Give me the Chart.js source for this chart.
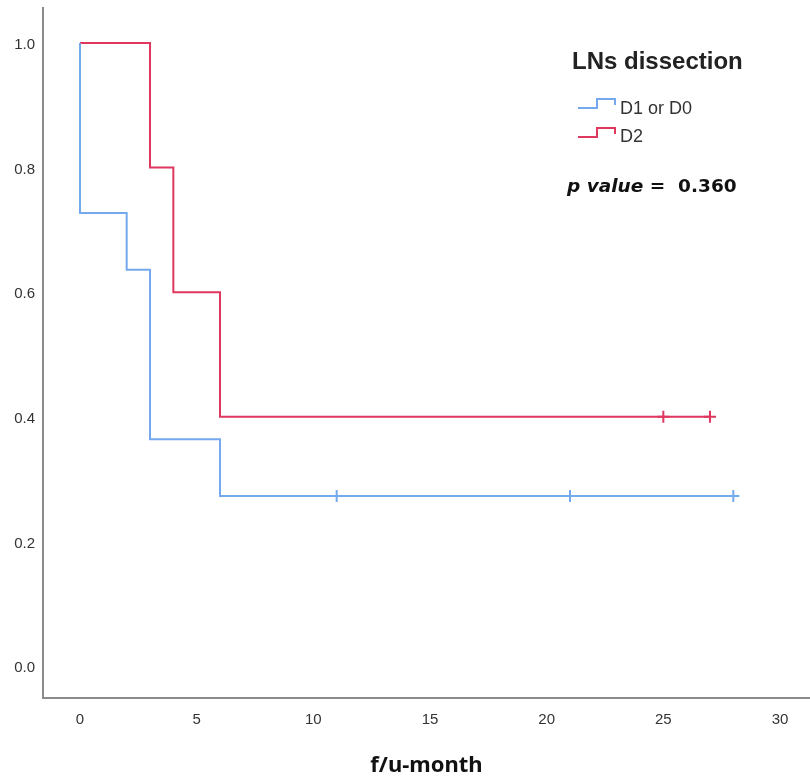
<!DOCTYPE html>
<html>
<head>
<meta charset="utf-8">
<script src="https://cdn.jsdelivr.net/npm/chart.js@4"></script>
<style>
  html, body { margin: 0; padding: 0; background: #fff; }
  #wrap { width: 810px; height: 780px; }
</style>
</head>
<body>
<div id="wrap"><canvas id="km" width="810" height="780"></canvas></div>
<script>
// survival curves (time in months, cumulative survival)
const d1Times = [0, 0, 2, 3, 6, 28];
const d1Surv = [1.0, 0.727, 0.636, 0.364, 0.273, 0.273];
const d2Times = [0, 3, 4, 6, 27];
const d2Surv = [1.0, 0.8, 0.6, 0.4, 0.4];

// censored cases
const d1CensorTimes = [11, 21, 28];
const d1CensorSurv = [0.273, 0.273, 0.273];
const d2CensorTimes = [25, 27];
const d2CensorSurv = [0.4, 0.4];

const groupNames = ["D1 or D0", "D2"];
const xTicks = [0, 5, 10, 15, 20, 25, 30];
const yTicks = [0, 0.2, 0.4, 0.6, 0.8, 1.0];

const BLUE = "#74a9ee";
const RED = "#e0375f";

function pts(xs, ys){
  return xs.map((x,i)=>({x:x, y:ys[i]}));
}

// legend + p value drawn on top
const notes = {
  id: "notes",
  afterDraw(chart){
    let ctx = chart.ctx;
    ctx.save();
    ctx.textBaseline = "alphabetic";
    ctx.fillStyle = "#222";
    ctx.font = "bold 24px 'Liberation Sans', Arial, sans-serif";
    ctx.fillText("LNs dissection", 572, 69);

    // step icons
    let icons = [[BLUE, 108], [RED, 137]];
    ctx.lineWidth = 2;
    icons.forEach(([c, y])=>{
      ctx.strokeStyle = c;
      ctx.beginPath();
      ctx.moveTo(578, y);
      ctx.lineTo(597, y);
      ctx.lineTo(597, y-9);
      ctx.lineTo(615, y-9);
      ctx.lineTo(615, y-3);
      ctx.stroke();
    });

    ctx.fillStyle = "#333";
    ctx.font = "18px 'Liberation Sans', Arial, sans-serif";
    ctx.fillText(groupNames[0], 620, 114);
    ctx.fillText(groupNames[1], 620, 142);

    ctx.fillStyle = "#111";
    ctx.font = "italic bold 18.5px 'DejaVu Sans', sans-serif";
    let s = "p value ";
    ctx.fillText(s, 567, 192);
    let w = ctx.measureText(s).width;
    ctx.font = "bold 18.5px 'DejaVu Sans', sans-serif";
    ctx.fillText("=  0.360", 567 + w, 192);
    ctx.restore();
  }
};

new Chart(document.getElementById("km"), {
  type: "line",
  data: {
    datasets: [
      {
        label: groupNames[0],
        data: pts(d1Times, d1Surv),
        borderColor: BLUE,
        borderWidth: 2,
        stepped: "before",
        pointRadius: 0,
        fill: false
      },
      {
        label: groupNames[1],
        data: pts(d2Times, d2Surv),
        borderColor: RED,
        borderWidth: 2,
        stepped: "before",
        pointRadius: 0,
        fill: false
      },
      {
        label: groupNames[0] + "-censored",
        data: pts(d1CensorTimes, d1CensorSurv),
        showLine: false,
        pointStyle: "cross",
        pointRadius: 6,
        borderColor: BLUE,
        pointBorderWidth: 2
      },
      {
        label: groupNames[1] + "-censored",
        data: pts(d2CensorTimes, d2CensorSurv),
        showLine: false,
        pointStyle: "cross",
        pointRadius: 6,
        borderColor: RED,
        pointBorderWidth: 2
      }
    ]
  },
  options: {
    responsive: false,
    animation: false,
    layout: { autoPadding: false, padding: { top: 8, left: 0, right: 0, bottom: 0 } },
    plugins: {
      legend: { display: false },
      tooltip: { enabled: false }
    },
    scales: {
      x: {
        type: "linear",
        min: -1.586,
        max: 31.286,
        afterBuildTicks: s => { s.ticks = xTicks.map(v=>({value:v})); },
        afterFit: s => { s.height = 82; s.paddingLeft = 0; s.paddingRight = 0; },
        grid: { display: true, drawOnChartArea: false, drawTicks: false, color: "transparent" },
        border: { display: true, color: "#8a8a8a", width: 2 },
        ticks: {
          padding: 13,
          color: "#333",
          font: { family: "'Liberation Sans', Arial, sans-serif", size: 15 },
          callback: v => String(v)
        },
        title: {
          display: true,
          text: "f/u-month",
          color: "#111",
          font: { family: "'Noto Sans', sans-serif", size: 22, weight: "bold" },
          padding: { top: 0, bottom: 1 }
        }
      },
      y: {
        type: "linear",
        min: -0.0514,
        max: 1.0562,
        afterBuildTicks: s => { s.ticks = yTicks.map(v=>({value:v})); },
        afterFit: s => { s.width = 43; s.paddingTop = 0; s.paddingBottom = 0; },
        grid: { display: true, drawOnChartArea: false, drawTicks: false, color: "transparent" },
        border: { display: true, color: "#8a8a8a", width: 2 },
        ticks: {
          padding: 8,
          labelOffset: 2,
          color: "#333",
          font: { family: "'Liberation Sans', Arial, sans-serif", size: 15 },
          callback: v => v.toFixed(1)
        }
      }
    }
  },
  plugins: [notes]
});
</script>
</body>
</html>
